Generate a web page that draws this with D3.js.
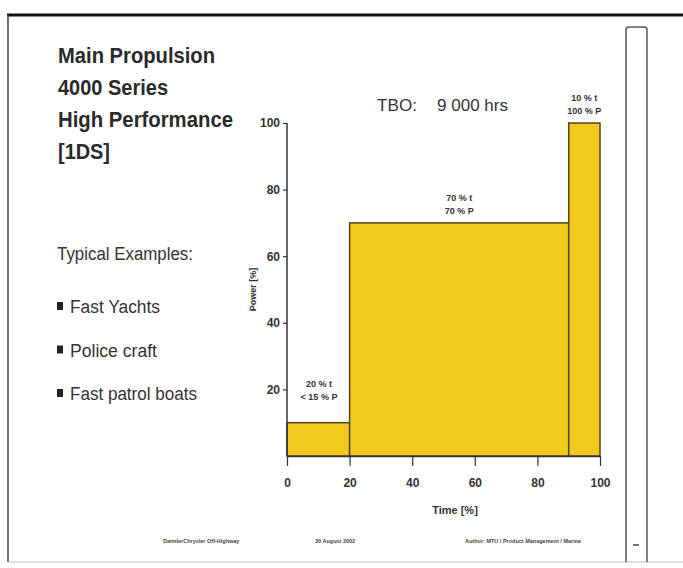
<!DOCTYPE html>
<html>
<head>
<meta charset="utf-8">
<script src="https://cdn.jsdelivr.net/npm/d3@7"></script>
<style>
  body { margin: 0; background: #fff; }
  svg { display: block; }
  text { font-family: "Liberation Sans Narrow", "Liberation Sans", Arial, sans-serif; fill: #222; }
</style>
</head>
<body>
<svg id="chart"></svg>
<script>
// load profile data
const timeStart = [0, 20, 90];
const timeEnd = [20, 90, 100];
const powerPct = [10, 70, 100];
const segLabels = [["20 % t", "< 15 % P"], ["70 % t", "70 % P"], ["10 % t", "100 % P"]];
const xTicks = [0, 20, 40, 60, 80, 100];
const yTicks = [20, 40, 60, 80, 100];
const titleLines = ["Main Propulsion", "4000 Series", "High Performance", "[1DS]"];
const examples = ["Fast Yachts", "Police craft", "Fast patrol boats"];

const W = 683, H = 568;
const svg = d3.select("#chart").attr("width", W).attr("height", H);

// narrow-looking text: squeeze a regular face to the measured width
function narrow(sel, len) {
  return sel.attr("textLength", len).attr("lengthAdjust", "spacingAndGlyphs");
}

// outer frame
svg.append("line").attr("x1", 7).attr("x2", W).attr("y1", 15).attr("y2", 15)
  .attr("stroke", "#111").attr("stroke-width", 3);
svg.append("line").attr("x1", 8).attr("x2", 8).attr("y1", 15).attr("y2", 562)
  .attr("stroke", "#444").attr("stroke-width", 1.5);
svg.append("line").attr("x1", 8).attr("x2", W).attr("y1", 562).attr("y2", 562)
  .attr("stroke", "#bbb").attr("stroke-width", 1);
svg.append("path")
  .attr("d", "M626,562 L626,30 Q626,27 629,27 L644,27 Q647,27 647,30 L647,562")
  .attr("fill", "none").attr("stroke", "#555").attr("stroke-width", 1.5);
svg.append("line").attr("x1", 633).attr("x2", 639).attr("y1", 545).attr("y2", 545)
  .attr("stroke", "#444").attr("stroke-width", 1.5);

// title block
const titleLen = [157, 110, 175, 52];
titleLines.forEach((t, i) => {
  narrow(svg.append("text").attr("x", 58).attr("y", 63 + i * 32)
    .attr("font-size", 22).attr("font-weight", "bold")
    .style("fill", "#2a2a2a").text(t), titleLen[i]);
});

narrow(svg.append("text").attr("x", 57).attr("y", 260).attr("font-size", 18)
  .style("fill", "#333").text("Typical Examples:"), 136);
const exLen = [90, 87, 127];
examples.forEach((t, i) => {
  const yy = 313 + i * 43.5;
  svg.append("rect").attr("x", 57).attr("y", yy - 11).attr("width", 6).attr("height", 8).attr("fill", "#222");
  narrow(svg.append("text").attr("x", 70).attr("y", yy).attr("font-size", 18)
    .style("fill", "#333").text(t), exLen[i]);
});

// chart area
const x = d3.scaleLinear().domain([0, 100]).range([287, 600]);
const y = d3.scaleLinear().domain([0, 100]).range([456, 123]);

narrow(svg.append("text").attr("x", 377).attr("y", 111).attr("font-size", 17)
  .style("fill", "#333").text("TBO:"), 40);
narrow(svg.append("text").attr("x", 437).attr("y", 111).attr("font-size", 17)
  .style("fill", "#333").text("9 000 hrs"), 71);

svg.append("g").selectAll("rect")
  .data(powerPct)
  .join("rect")
  .attr("x", (d, i) => x(timeStart[i]))
  .attr("y", d => y(d))
  .attr("width", (d, i) => x(timeEnd[i]) - x(timeStart[i]))
  .attr("height", d => y(0) - y(d))
  .attr("fill", "#f2ca1d")
  .attr("stroke", "#4d4220")
  .attr("stroke-width", 1.5);

// segment labels
segLabels.forEach((lines, i) => {
  const cx = i === 0 ? x(timeStart[i]) + 32 : (x(timeStart[i]) + x(timeEnd[i])) / 2;
  const base = i === 0 ? y(20) - 2 : y(powerPct[i]) - 22;
  lines.forEach((t, j) => {
    svg.append("text").attr("x", cx).attr("y", base + j * 13)
      .attr("text-anchor", "middle").attr("font-size", 9).attr("font-weight", "bold")
      .style("fill", "#333").text(t);
  });
});

// axes
const yAxis = svg.append("g").attr("transform", `translate(${x(0)},0)`)
  .call(d3.axisLeft(y).tickValues(yTicks).tickSize(4).tickSizeOuter(0));
const xAxis = svg.append("g").attr("transform", `translate(0,${y(0)})`)
  .call(d3.axisBottom(x).tickValues(xTicks).tickSize(10).tickSizeOuter(0));
[xAxis, yAxis].forEach(a => {
  a.select(".domain").attr("stroke", "#333").attr("stroke-width", 1.5);
  a.selectAll(".tick line").attr("stroke", "#333").attr("stroke-width", 1.2);
  a.selectAll(".tick text").attr("font-size", 12).attr("font-weight", "bold")
    .attr("font-family", "Liberation Sans Narrow, Liberation Sans, sans-serif")
    .style("fill", "#333");
});
yAxis.select(".domain").attr("d", `M0,${y(0)}V${y(100)}`);
xAxis.selectAll(".tick text").attr("dy", "1.5em");

svg.append("text").attr("x", 455).attr("y", 514).attr("text-anchor", "middle")
  .attr("font-size", 11).attr("font-weight", "bold").style("fill", "#333").text("Time [%]");
svg.append("text").attr("transform", `translate(256,${y(50)}) rotate(-90)`)
  .attr("text-anchor", "middle").attr("font-size", 9).attr("font-weight", "bold")
  .style("fill", "#333").text("Power [%]");

// footer
const footer = [["DaimlerChrysler Off-Highway", 163], ["30 August 2002", 315], ["Author: MTU / Product Management / Marine", 465]];
footer.forEach(([t, fx]) => {
  svg.append("text").attr("x", fx).attr("y", 543).attr("font-size", 5.5)
    .attr("font-weight", "bold").style("fill", "#444").text(t);
});
</script>
</body>
</html>
